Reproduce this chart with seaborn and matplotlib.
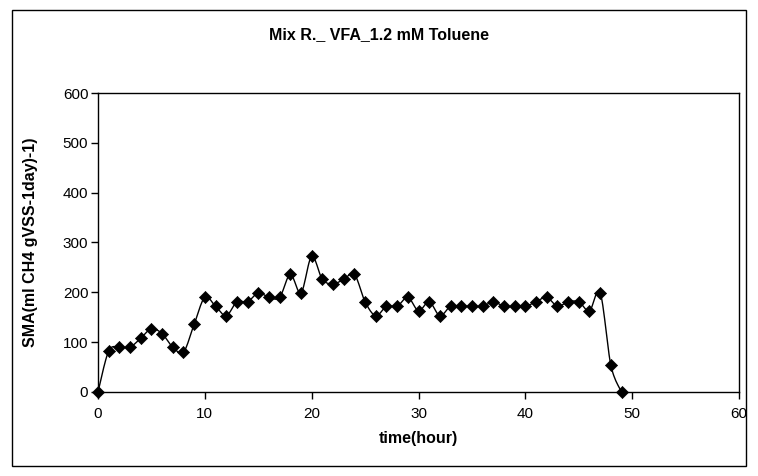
import numpy as np
import pandas as pd
import matplotlib
matplotlib.use("Agg")
import matplotlib.pyplot as plt
import seaborn as sns
from matplotlib.patches import Rectangle

hours = list(range(0, 50))
sma = [0, 82, 90, 90, 108, 127, 117, 90, 80, 136,
       190, 172, 153, 181, 181, 199, 190, 190, 236, 199,
       272, 226, 217, 226, 236, 181, 153, 172, 172, 190,
       163, 181, 153, 172, 172, 172, 172, 181, 172, 172,
       172, 181, 190, 172, 181, 181, 163, 199, 54, 0]

title = "Mix R._ VFA_1.2 mM Toluene"
xlabel = "time(hour)"
ylabel = "SMA(ml CH4 gVSS-1day)-1)"


def smooth(x, y, n=12):
    # excel-like smoothed line (catmull-rom through the points)
    x = np.asarray(x, float)
    y = np.asarray(y, float)
    px = np.concatenate([[x[0]], x, [x[-1]]])
    py = np.concatenate([[y[0]], y, [y[-1]]])
    xs, ys = [], []
    t = np.linspace(0, 1, n, endpoint=False)
    for i in range(1, len(px) - 2):
        for p, out in ((px, xs), (py, ys)):
            p0, p1, p2, p3 = p[i - 1], p[i], p[i + 1], p[i + 2]
            c1 = p1 + (p2 - p0) / 6
            c2 = p2 - (p3 - p1) / 6
            out.extend((1 - t) ** 3 * p1 + 3 * (1 - t) ** 2 * t * c1
                       + 3 * (1 - t) * t ** 2 * c2 + t ** 3 * p2)
    xs.append(x[-1])
    ys.append(y[-1])
    return np.array(xs), np.array(ys)


sns.set_style("white")
plt.rcParams['font.family'] = ['Liberation Sans', 'DejaVu Sans']
plt.rcParams['text.color'] = 'black'
plt.rcParams['axes.labelcolor'] = 'black'
plt.rcParams['xtick.color'] = 'black'
plt.rcParams['ytick.color'] = 'black'

df = pd.DataFrame({"hour": hours, "sma": sma})
cx, cy = smooth(hours, sma)
curve = pd.DataFrame({"hour": cx, "sma": cy})

fig = plt.figure(figsize=(7.58, 4.76), dpi=100)
ax = fig.add_axes([0.1293, 0.1765, 0.9750 - 0.1293, 0.8046 - 0.1765])

sns.lineplot(data=curve, x="hour", y="sma", color="black", linewidth=1.0,
             sort=False, estimator=None, ax=ax)
sns.scatterplot(data=df, x="hour", y="sma", marker="D", color="black",
                s=38, edgecolor="black", zorder=3, clip_on=False, ax=ax)

ax.set_xlim(0, 60)
ax.set_ylim(0, 600)
ax.set_xticks(range(0, 61, 10))
ax.set_yticks(range(0, 601, 100))
ax.tick_params(direction="out", length=5, width=1, color="black",
               labelcolor="black", labelsize=11, bottom=True, left=True)
ax.tick_params(axis="x", pad=6)
ax.tick_params(axis="y", pad=2)
for s in ax.spines.values():
    s.set_color("black")
    s.set_linewidth(1.0)

ax.set_xlabel(xlabel, fontsize=11.5, fontweight="bold", color="black")
ax.set_ylabel(ylabel, fontsize=11.5, fontweight="bold", color="black")
ax.xaxis.set_label_coords(0.5, -0.132)
ax.yaxis.set_label_coords(-0.094, 0.5)
fig.text(0.5, 1 - 35 / 476, title, ha="center", va="center",
         fontsize=11.5, fontweight="bold", color="black")

fig.patches.append(Rectangle((12 / 758, 10 / 476), 734 / 758, 456 / 476,
                             transform=fig.transFigure, fill=False,
                             edgecolor="black", linewidth=1.0))

fig.savefig("out.png", dpi=100)
